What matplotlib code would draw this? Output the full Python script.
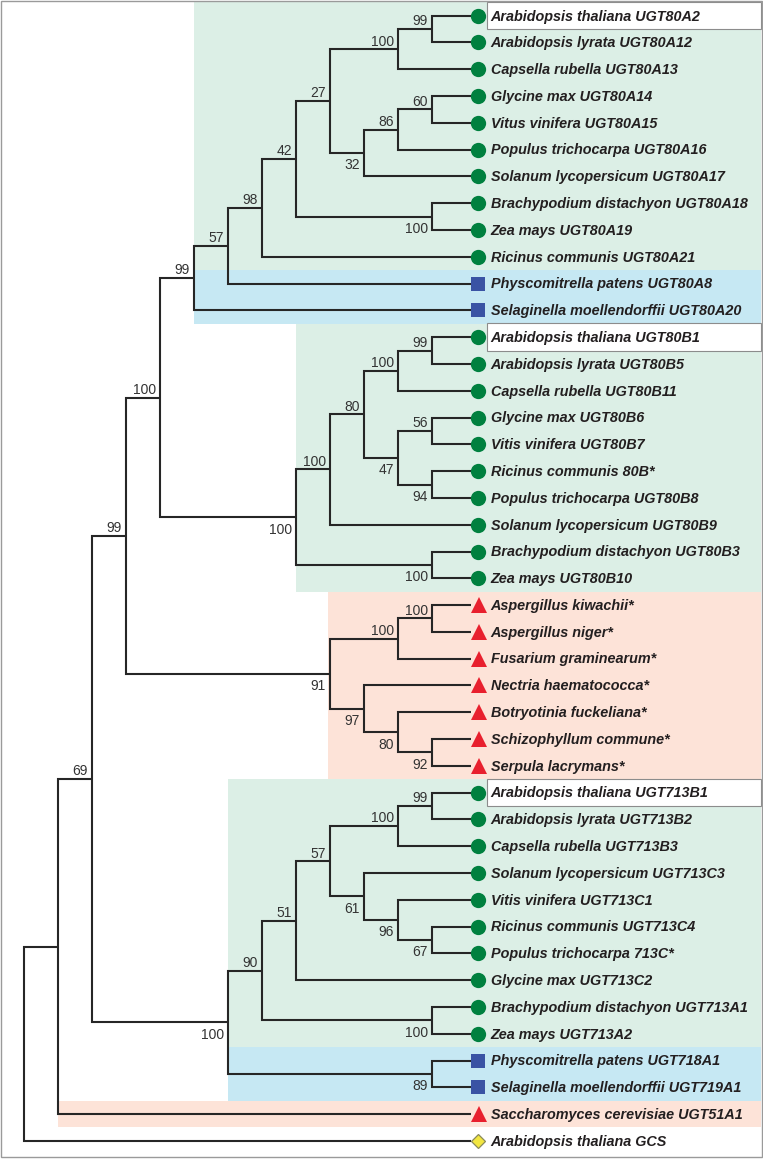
import matplotlib
matplotlib.use("Agg")
import matplotlib.pyplot as plt
from matplotlib.patches import Rectangle

# ---------------- data ----------------
leaf_names = [
    "Arabidopsis thaliana UGT80A2", "Arabidopsis lyrata UGT80A12", "Capsella rubella UGT80A13",
    "Glycine max UGT80A14", "Vitus vinifera UGT80A15", "Populus trichocarpa UGT80A16",
    "Solanum lycopersicum UGT80A17", "Brachypodium distachyon UGT80A18", "Zea mays UGT80A19",
    "Ricinus communis UGT80A21", "Physcomitrella patens UGT80A8", "Selaginella moellendorffii UGT80A20",
    "Arabidopsis thaliana UGT80B1", "Arabidopsis lyrata UGT80B5", "Capsella rubella UGT80B11",
    "Glycine max UGT80B6", "Vitis vinifera UGT80B7", "Ricinus communis 80B*",
    "Populus trichocarpa UGT80B8", "Solanum lycopersicum UGT80B9", "Brachypodium distachyon UGT80B3",
    "Zea mays UGT80B10", "Aspergillus kiwachii*", "Aspergillus niger*", "Fusarium graminearum*",
    "Nectria haematococca*", "Botryotinia fuckeliana*", "Schizophyllum commune*", "Serpula lacrymans*",
    "Arabidopsis thaliana UGT713B1", "Arabidopsis lyrata UGT713B2", "Capsella rubella UGT713B3",
    "Solanum lycopersicum UGT713C3", "Vitis vinifera UGT713C1", "Ricinus communis UGT713C4",
    "Populus trichocarpa 713C*", "Glycine max UGT713C2", "Brachypodium distachyon UGT713A1",
    "Zea mays UGT713A2", "Physcomitrella patens UGT718A1", "Selaginella moellendorffii UGT719A1",
    "Saccharomyces cerevisiae UGT51A1", "Arabidopsis thaliana GCS",
]
leaf_kind = (["plant"] * 10 + ["moss"] * 2 + ["plant"] * 10 + ["fungus"] * 7 +
             ["plant"] * 10 + ["moss"] * 2 + ["fungus"] + ["gcs"])
highlighted = [0, 12, 29]

# tree: (bootstrap support, [children]); integers are leaf indices
clade_A = (99, [(57, [(98, [(42, [(27, [(100, [(99, [0, 1]), 2]),
                                        (32, [(86, [(60, [3, 4]), 5]), 6])]),
                                  (100, [7, 8])]), 9]), 10]), 11])
clade_B = (100, [(100, [(80, [(100, [(99, [12, 13]), 14]),
                              (47, [(56, [15, 16]), (94, [17, 18])])]), 19]),
                 (100, [20, 21])])
clade_F = (91, [(100, [(100, [22, 23]), 24]),
                (97, [25, (80, [26, (92, [27, 28])])])])
clade_713 = (100, [(90, [(51, [(57, [(100, [(99, [29, 30]), 31]),
                                     (61, [32, (96, [33, (67, [34, 35])])])]), 36]),
                         (100, [37, 38])]),
                   (89, [39, 40])])
tree = (None, [(None, [(69, [(99, [(100, [clade_A, clade_B]), clade_F]), clade_713]), 41]), 42])

# shaded groups: (first leaf, last leaf, colour, height of node at left edge)
groups = [(0, 9, "green", 8), (10, 11, "blue", 8), (12, 21, "green", 5),
          (22, 28, "salmon", 4), (29, 38, "green", 7), (39, 40, "blue", 7),
          (41, 41, "salmon", 12)]

# ---------------- style / layout ----------------
W, H = 763, 1161
Y0, DY = 15.7, 26.79
XH1, DX = 432.3, 34.0
LEAF_X = 470.5
BG = {"green": "#dcefe6", "blue": "#c6e8f3", "salmon": "#fde3d8"}
MK = {"plant": dict(marker="o", ms=11.0, color="#00803f", mec="#00803f", dx=477.6),
      "moss": dict(marker="s", ms=9.4, color="#3a53a4", mec="#3a53a4", dx=478.3),
      "fungus": dict(marker="^", ms=11.5, color="#e8202e", mec="#e8202e", dx=478.8),
      "gcs": dict(marker="D", ms=7.2, color="#f2e640", mec="#8a8a5a", dx=478.3)}
LINE = "#262626"
TXT = "#231f20"

def ly(i):
    return Y0 + DY * i

def nx(h):
    return XH1 - DX * (h - 1)

fig = plt.figure(figsize=(W / 100, H / 100), dpi=100)
ax = fig.add_axes([0, 0, 1, 1])
ax.set_xlim(0, W)
ax.set_ylim(H, 0)
ax.axis("off")

# shaded backgrounds
RIGHT = 760.5
for a, b, col, h in groups:
    left = nx(h) - (2.5 if col == "salmon" and h == 4 else 0)
    top = ly(a) - DY / 2
    ax.add_patch(Rectangle((left, top), RIGHT - left, DY * (b - a + 1),
                           facecolor=BG[col], edgecolor="none", zorder=0))

# highlight boxes
for i in highlighted:
    ax.add_patch(Rectangle((487.3, ly(i) - 13.9), 761 - 487.3, 27.6,
                           facecolor="white", edgecolor="#8c8c8c", lw=0.8, zorder=1))

# layout tree
def layout(node):
    if isinstance(node, int):
        return {"y": ly(node), "h": 0, "x": LEAF_X, "sup": None, "kids": []}
    sup, kids = node
    infos = [layout(k) for k in kids]
    h = max(k["h"] for k in infos) + 1
    y = (infos[0]["y"] + infos[-1]["y"]) / 2
    return {"y": y, "h": h, "x": nx(h), "sup": sup, "kids": infos}

def draw(n):
    if not n["kids"]:
        return
    c1, c2 = n["kids"][0], n["kids"][-1]
    ax.plot([c1["x"], n["x"], n["x"], c2["x"]], [c1["y"], c1["y"], c2["y"], c2["y"]],
            color=LINE, lw=1.5, solid_joinstyle="miter", solid_capstyle="butt", zorder=2)
    for j, c in enumerate(n["kids"]):
        if c["kids"] and c["sup"] is not None:
            if j == 0:
                ax.text(c["x"] - 4.5, c["y"] - 3.6, str(c["sup"]), ha="right", va="baseline",
                        fontsize=10, color="#333333", family="Liberation Sans", zorder=3)
            else:
                ax.text(c["x"] - 4.5, c["y"] + 5.5, str(c["sup"]), ha="right", va="top",
                        fontsize=10, color="#333333", family="Liberation Sans", zorder=3)
        draw(c)

root = layout(tree)
draw(root)

# leaves
for i, (name, kind) in enumerate(zip(leaf_names, leaf_kind)):
    m = MK[kind]
    ax.plot([m["dx"]], [ly(i)], marker=m["marker"], ms=m["ms"], color=m["color"],
            mec=m["mec"], mew=0.9 if kind == "gcs" else 0, linestyle="none", zorder=4)
    ax.text(490.7, ly(i) + 4.8, name, ha="left", va="baseline", fontsize=10.4,
            fontweight="bold", fontstyle="italic", family="Liberation Sans",
            color=TXT, zorder=4)

# outer frame
ax.add_patch(Rectangle((1.3, 1.3), 760.2, 1156.0, facecolor="none",
                       edgecolor="#9a9a9a", lw=1.0, zorder=5))

fig.savefig("out.png", dpi=100)
